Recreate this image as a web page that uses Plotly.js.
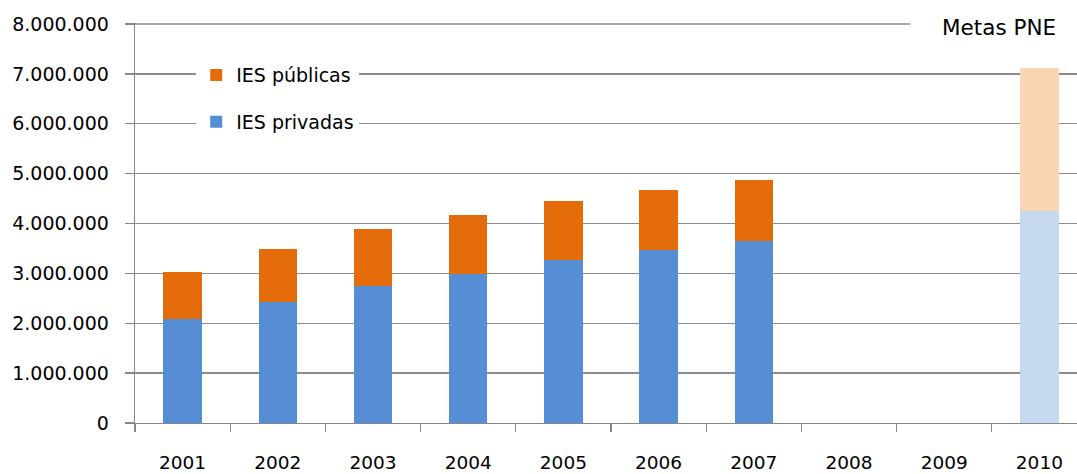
<!DOCTYPE html>
<html>
<head>
<meta charset="utf-8">
<script src="https://cdn.plot.ly/plotly-3.0.1.min.js"></script>
<style>html,body{margin:0;padding:0;background:#fff;}#chart{width:1077px;height:474px;}</style>
</head>
<body>
<div id="chart"></div>
<script>
const years = ["2001","2002","2003","2004","2005","2006","2007","2008","2009","2010"];
const dataYears = ["2001","2002","2003","2004","2005","2006","2007"];
const privadas = [2091529, 2428258, 2750652, 2985405, 3260967, 3467342, 3639413];
const publicas = [939225, 1051655, 1137119, 1178328, 1192189, 1209304, 1240968];
const metaYear = ["2010"];
const metaPrivadas = [4260000];
const metaPublicas = [2860000];
const yTicks = [0,1000000,2000000,3000000,4000000,5000000,6000000,7000000,8000000];

const font = "DejaVu Sans, sans-serif";
const traces = [
  {type:"bar", name:"IES privadas", x:dataYears, y:privadas, marker:{color:"#558ED5"}, legendgroup:"b", legendrank:2},
  {type:"bar", name:"IES públicas", x:dataYears, y:publicas, marker:{color:"#E46C0A"}, legendgroup:"a", legendrank:1},
  {type:"bar", name:"Meta privadas", x:metaYear, y:metaPrivadas, marker:{color:"#C6D9F1"}, showlegend:false},
  {type:"bar", name:"Meta públicas", x:metaYear, y:metaPublicas, marker:{color:"#FCD5B5"}, showlegend:false}
];
const layout = {
  width:1077, height:474,
  margin:{l:135, r:0, t:23, b:50.5},
  barmode:"stack", bargap:0.596,
  separators:",.",
  paper_bgcolor:"#fff", plot_bgcolor:"#fff",
  font:{family:font, size:18, color:"#000"},
  xaxis:{type:"category", categoryorder:"array", categoryarray:years,
         range:[-0.5, 9.395], tickson:"boundaries", ticks:"outside", ticklen:8, tickcolor:"#868686", tickwidth:1.3,
         showline:true, linecolor:"#868686", linewidth:1.3, showgrid:false, fixedrange:true,
         tickfont:{family:font, size:18.5, color:"#000"}, ticklabelstandoff:22},
  yaxis:{range:[0, 8020000], tickvals:yTicks,
         tickformat:",d", ticks:"outside", ticklen:9, tickcolor:"#868686", tickwidth:1.3,
         showline:true, linecolor:"#868686", linewidth:1.3, gridcolor:"#8c8c8c", gridwidth:1.3, zeroline:false,
         tickfont:{family:font, size:19, color:"#000"}, ticklabelstandoff:12},
  legend:{x:0.065, xanchor:"left", y:0.917, yanchor:"top", bgcolor:"#fff", traceorder:"grouped", tracegroupgap:19,
          itemwidth:30, font:{family:font, size:19, color:"#000"}},
  shapes:[
    {type:"line", xref:"paper", yref:"y", x0:0, x1:1, y0:yTicks[8], y1:yTicks[8], line:{color:"#8c8c8c", width:1.3}, layer:"below"},
    {type:"rect", xref:"paper", yref:"paper", x0:0.823, x1:1, y0:0.96, y1:1.04, fillcolor:"#fff", line:{width:0}, layer:"above"}
  ],
  annotations:[{text:"Metas PNE", xref:"paper", yref:"paper", x:0.917, y:0.99, xanchor:"center", yanchor:"middle", showarrow:false,
                font:{family:font, size:21.5, color:"#000"}}]
};
Plotly.newPlot("chart", traces, layout, {displayModeBar:false, staticPlot:true});
</script>
</body>
</html>
